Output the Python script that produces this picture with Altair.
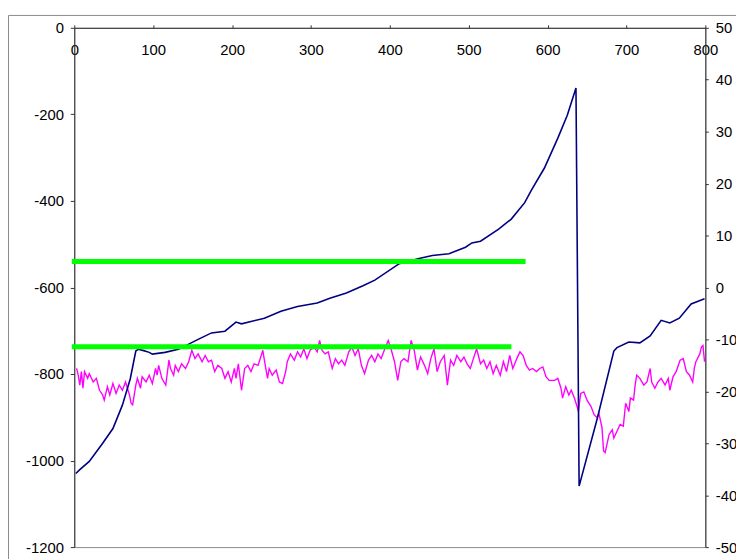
import altair as alt
import pandas as pd

# Navy series (left axis)
navy_x = [2, 7, 19, 36, 49, 61, 71, 78, 81, 88, 95, 99, 115, 132, 157, 174, 191, 205, 212, 241,
          262, 283, 308, 324, 345, 366, 381, 412, 437, 454, 475, 496, 504, 515, 538, 554, 571,
          579, 596, 613, 625, 636, 640, 663, 684, 688, 703, 717, 730, 744, 755, 767, 782, 799]
navy_y = [-1030, -1021, -1002, -960, -926, -872, -811, -747, -743, -746, -750, -754, -750, -743,
          -720, -705, -701, -680, -684, -671, -655, -644, -636, -625, -613, -596, -583, -545,
          -533, -526, -522, -507, -497, -493, -465, -442, -404, -377, -324, -255, -202, -139,
          -1059, -903, -747, -739, -726, -728, -712, -676, -682, -671, -638, -626]

# Magenta series (right axis)
mag_x = [3, 5, 7, 9, 11, 13, 17, 19, 24, 28, 32, 36, 38, 42, 45, 49, 53, 57, 61, 65, 70, 72, 74,
         78, 80, 84, 86, 91, 95, 99, 103, 105, 107, 111, 116, 120, 122, 126, 128, 132, 136, 141,
         145, 149, 153, 157, 162, 166, 170, 174, 178, 182, 187, 191, 195, 199, 203, 205, 208,
         212, 216, 220, 224, 228, 233, 237, 239, 241, 245, 247, 251, 256, 260, 264, 268, 270,
         274, 279, 283, 287, 291, 295, 299, 304, 308, 311, 314, 318, 322, 327, 331, 335, 339,
         343, 348, 352, 356, 360, 364, 368, 373, 377, 381, 385, 389, 393, 398, 402, 406, 410,
         414, 418, 423, 427, 431, 435, 439, 444, 448, 452, 456, 460, 464, 469, 473, 477, 481,
         485, 490, 494, 498, 502, 506, 510, 515, 519, 523, 527, 531, 535, 540, 544, 548, 552,
         556, 561, 565, 569, 573, 577, 581, 586, 590, 594, 598, 602, 609, 613, 617, 619, 623,
         627, 630, 634, 638, 639, 642, 646, 650, 655, 659, 663, 665, 669, 671, 673, 678, 682,
         684, 688, 692, 696, 699, 703, 705, 709, 711, 713, 717, 722, 726, 730, 732, 736, 740,
         744, 749, 753, 755, 759, 763, 768, 772, 776, 780, 784, 786, 788, 793, 795, 797, 799]
mag_y = [-15.6, -16.9, -18.8, -16.2, -19.4, -16.2, -17.5, -16.6, -18.2, -17.5, -19.8, -20.7,
         -21.7, -19.1, -20.7, -18.5, -20.4, -18.8, -19.8, -18.2, -20.7, -22.3, -22.6, -18.8,
         -17.5, -19.4, -17.2, -18.2, -16.9, -18.5, -15.6, -16.9, -15.0, -17.5, -18.8, -14.0,
         -15.6, -16.9, -15.0, -16.2, -14.7, -15.6, -14.3, -12.1, -13.7, -12.8, -14.3, -13.1,
         -14.3, -14.0, -16.2, -15.0, -15.6, -17.5, -16.2, -18.2, -15.6, -17.5, -14.7, -19.8,
         -15.6, -15.0, -16.2, -14.7, -15.0, -13.1, -12.1, -14.0, -17.5, -15.6, -16.9, -15.9,
         -18.2, -18.5, -16.2, -14.3, -12.8, -14.0, -12.4, -13.4, -11.8, -13.7, -12.1, -11.5,
         -12.4, -10.2, -12.1, -12.8, -12.4, -15.6, -13.7, -14.7, -14.0, -15.0, -12.4, -11.5,
         -13.1, -11.8, -15.0, -16.6, -14.0, -13.1, -14.3, -12.8, -13.7, -12.1, -10.2, -12.1,
         -14.3, -17.9, -14.3, -13.7, -14.3, -10.2, -12.1, -15.9, -13.4, -15.0, -16.6, -13.7,
         -11.8, -16.2, -14.3, -13.1, -18.8, -14.0, -15.0, -13.1, -14.3, -13.4, -14.7, -15.6,
         -13.7, -11.8, -14.7, -14.0, -15.6, -14.3, -16.6, -15.0, -16.9, -14.3, -16.2, -13.1,
         -15.6, -13.7, -12.4, -13.1, -15.0, -15.9, -15.6, -16.2, -15.6, -15.3, -17.2, -17.9,
         -17.9, -17.5, -19.4, -21.3, -19.1, -20.7, -19.8, -21.3, -23.2, -23.9, -20.4, -20.1,
         -21.7, -22.9, -24.5, -25.1, -24.2, -27.0, -31.5, -31.8, -28.3, -27.4, -29.0, -27.7,
         -26.4, -26.7, -22.3, -23.9, -21.3, -21.7, -18.8, -16.9, -17.5, -18.8, -18.2, -15.6,
         -18.2, -19.4, -18.2, -17.5, -18.8, -17.5, -19.8, -17.2, -16.2, -14.0, -13.7, -16.2,
         -16.9, -18.2, -15.6, -14.3, -12.8, -11.5, -11.2, -14.3]

# Green threshold lines (right axis)
green_id = ["upper", "upper", "lower", "lower"]
green_x = [0, 569, 0, 551]
green_y = [5.0, 5.0, -11.4, -11.4]

navy_df = pd.DataFrame({"x": navy_x, "y": navy_y})
mag_df = pd.DataFrame({"x": mag_x, "y": mag_y})
green_df = pd.DataFrame({"id": green_id, "x": green_x, "y": green_y})

FONT = "Liberation Sans"
LABEL_EXPR = "'' + datum.value"  # plain hyphen minus, as in the original
xscale = alt.Scale(domain=[0, 800], nice=False)
left_scale = alt.Scale(domain=[-1200, 0], nice=False)
right_scale = alt.Scale(domain=[-50, 50], nice=False)


def x_axis():
    return alt.Axis(orient="top", values=list(range(0, 801, 100)), title=None, grid=False,
                    tickSize=3, labelPadding=-25, labelBaseline="middle", labelFlush=False,
                    labelOverlap=False, labelFontSize=15, labelFont=FONT, labelColor="black",
                    domainColor="#333333", tickColor="#333333", labelExpr=LABEL_EXPR)


left_axis = alt.Axis(orient="left", values=list(range(-1200, 1, 200)), title=None, grid=False,
                     tickSize=4, labelPadding=7, labelFontSize=15, labelFont=FONT,
                     labelColor="black", domainColor="#333333", tickColor="#333333",
                     labelOverlap=False, labelFlush=False, labelExpr=LABEL_EXPR)

right_axis = alt.Axis(orient="right", values=list(range(-50, 51, 10)), title=None, grid=False,
                      tickSize=3, labelPadding=7, labelFontSize=15, labelFont=FONT,
                      labelColor="black", domainColor="#333333", tickColor="#333333",
                      labelOverlap=False, labelFlush=False, labelExpr=LABEL_EXPR)

border = alt.Chart(alt.Data(values=[{}])).mark_rect(
    fill=None, stroke="#8a8a8a", strokeWidth=1
).encode(
    x=alt.value(-66.5), x2=alt.value(720), y=alt.value(-12.5), y2=alt.value(600)
)

mag = alt.Chart(mag_df).mark_line(color="#FF00FF", strokeWidth=1.4).encode(
    x=alt.X("x:Q", scale=xscale, axis=x_axis()),
    y=alt.Y("y:Q", scale=right_scale, axis=right_axis),
)

navy = alt.Chart(navy_df).mark_line(color="#000080", strokeWidth=1.6).encode(
    x=alt.X("x:Q", scale=xscale, axis=x_axis()),
    y=alt.Y("y:Q", scale=left_scale, axis=left_axis),
)

green = alt.Chart(green_df).mark_line(color="#00FF00", strokeWidth=5, strokeCap="square").encode(
    x=alt.X("x:Q", scale=xscale, axis=x_axis()),
    y=alt.Y("y:Q", scale=right_scale, axis=None),
    detail="id:N",
)

chart = alt.layer(border, mag, navy, green).resolve_scale(y="independent").properties(
    width=638,
    height=525,
    autosize=alt.AutoSizeParams(type="none"),
    padding={"left": 67, "top": 17, "right": 31, "bottom": 9},
    background="white",
).configure_view(stroke="#8a8a8a", strokeWidth=1)

chart.save("out.html", embed_options={"renderer": "svg", "actions": False})
